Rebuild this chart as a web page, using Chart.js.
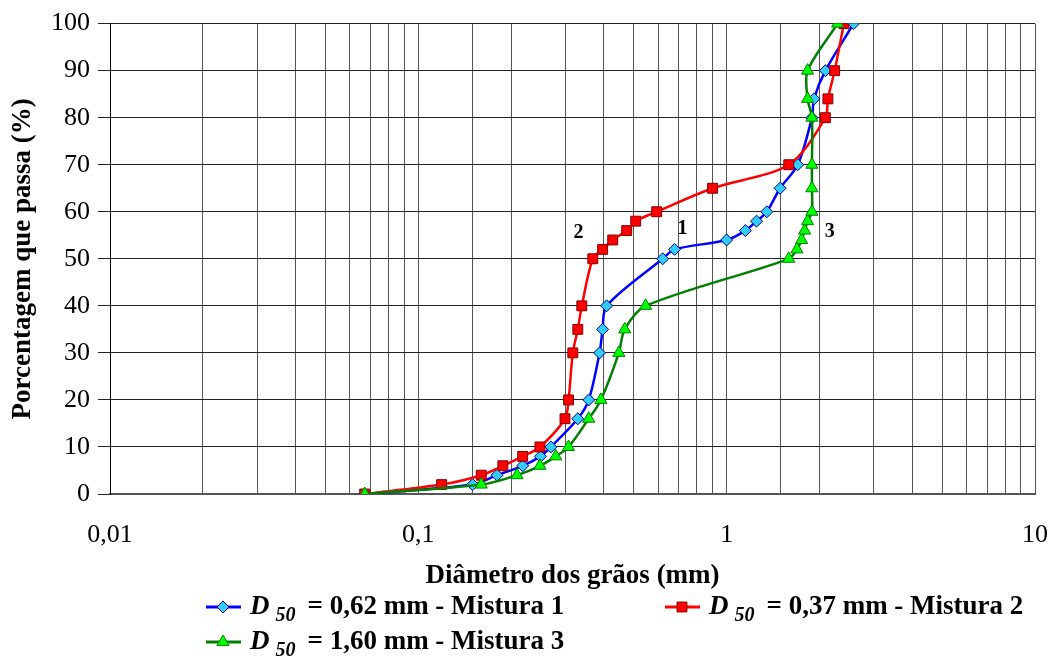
<!DOCTYPE html>
<html>
<head>
<meta charset="utf-8">
<script src="https://cdn.jsdelivr.net/npm/chart.js@4.4.0/dist/chart.umd.min.js"></script>
<style>
  html, body { margin: 0; padding: 0; background: #fff; }
  #wrap { width: 1053px; height: 656px; }
</style>
</head>
<body>
<div id="wrap"><canvas id="myChart"></canvas></div>
<script>
// percentage passing, shared by the three mixes
const passing = [0, 2, 4, 6, 8, 10, 16, 20, 30, 35, 40, 50, 52, 54, 56, 58, 60, 65, 70, 80, 84, 90, 100];
// grain diameters (mm)
const mix1 = [0.067, 0.150, 0.180, 0.218, 0.249, 0.269, 0.329, 0.357, 0.387, 0.396, 0.408, 0.620, 0.678, 1.00, 1.15, 1.25, 1.35, 1.49, 1.70, 1.89, 1.92, 2.09, 2.58];
const mix2 = [0.067, 0.119, 0.160, 0.188, 0.218, 0.248, 0.299, 0.307, 0.317, 0.329, 0.339, 0.368, 0.396, 0.427, 0.474, 0.507, 0.593, 0.90, 1.59, 2.09, 2.13, 2.24, 2.40];
const mix3 = [0.067, 0.160, 0.209, 0.248, 0.279, 0.307, 0.357, 0.391, 0.447, 0.467, 0.546, 1.59, 1.69, 1.75, 1.79, 1.83, 1.89, 1.89, 1.89, 1.89, 1.83, 1.83, 2.29];

const d50Values = ['0,62', '0,37', '1,60'];
const mixNames = ['Mistura 1', 'Mistura 2', 'Mistura 3'];

// curve numbers written next to each curve
const tagText = ['1', '2', '3'];
const tagX = [0.719, 0.331, 2.158];
const tagY = [56.3, 55.5, 55.7];

const serif = '"Liberation Serif", "Times New Roman", serif';

function pts(xs) {
  return xs.map((x, i) => ({ x: x, y: passing[i] }));
}

const curveTags = {
  id: 'curveTags',
  afterDatasetsDraw(chart) {
    const ctx = chart.ctx;
    const sx = chart.scales.x, sy = chart.scales.y;
    ctx.save();
    ctx.font = 'bold 20px ' + serif;
    ctx.fillStyle = '#000';
    ctx.textAlign = 'center';
    ctx.textBaseline = 'middle';
    tagText.forEach((t, i) => {
      ctx.fillText(t, sx.getPixelForValue(tagX[i]), sy.getPixelForValue(tagY[i]));
    });
    ctx.restore();
  }
};

const mixLegend = {
  id: 'mixLegend',
  afterDraw(chart) {
    const ctx = chart.ctx;
    const spots = [[206, 607], [665, 607], [206, 642]];
    chart.data.datasets.forEach((ds, i) => {
      const [x, y] = spots[i];
      ctx.save();
      ctx.strokeStyle = ds.borderColor;
      ctx.lineWidth = 3;
      ctx.beginPath();
      ctx.moveTo(x, y);
      ctx.lineTo(x + 35, y);
      ctx.stroke();
      ctx.fillStyle = ds.pointBackgroundColor;
      ctx.strokeStyle = ds.pointBorderColor;
      ctx.lineWidth = 1;
      Chart.helpers.drawPoint(ctx, { pointStyle: ds.pointStyle, radius: ds.pointRadius, borderWidth: 1, rotation: 0 }, x + 17, y);

      ctx.fillStyle = '#000';
      ctx.textBaseline = 'middle';
      ctx.textAlign = 'left';
      let tx = x + 44;
      ctx.font = 'italic bold 27px ' + serif;
      ctx.fillText('D', tx, y);
      tx += ctx.measureText('D').width + 6;
      ctx.font = 'italic bold 20px ' + serif;
      ctx.fillText('50', tx, y + 9);
      tx += ctx.measureText('50').width + 12;
      ctx.font = 'bold 27px ' + serif;
      ctx.fillText('= ' + d50Values[i] + ' mm - ' + mixNames[i], tx, y);
      ctx.restore();
    });
  }
};

const ctx = document.getElementById('myChart');

new Chart(ctx, {
  type: 'scatter',
  data: {
    datasets: [{
      label: mixNames[0],
      data: pts(mix1),
      showLine: true,
      tension: 0.3,
      borderColor: '#0000ff',
      borderWidth: 2.5,
      pointStyle: 'rectRot',
      pointRadius: 6,
      pointBackgroundColor: '#33ccff',
      pointBorderColor: '#000080',
      pointBorderWidth: 1,
      order: 3
    }, {
      label: mixNames[1],
      data: pts(mix2),
      showLine: true,
      tension: 0.3,
      borderColor: '#ff0000',
      borderWidth: 2.5,
      pointStyle: 'rect',
      pointRadius: 7,
      pointBackgroundColor: '#ff0000',
      pointBorderColor: '#800000',
      pointBorderWidth: 1,
      order: 2
    }, {
      label: mixNames[2],
      data: pts(mix3),
      showLine: true,
      tension: 0.3,
      borderColor: '#008000',
      borderWidth: 2.5,
      pointStyle: 'triangle',
      pointRadius: 7,
      pointBackgroundColor: '#00ff00',
      pointBorderColor: '#008000',
      pointBorderWidth: 1,
      order: 1
    }]
  },
  options: {
    responsive: true,
    maintainAspectRatio: false,
    animation: false,
    layout: { padding: { top: 20, right: 18, left: 0, bottom: 0 } },
    plugins: {
      legend: { display: false },
      tooltip: { enabled: false }
    },
    scales: {
      x: {
        type: 'logarithmic',
        min: 0.01,
        max: 10,
        afterFit(s) {
          s.height = 162;
          s.paddingLeft = 0;
          s.paddingRight = 0;
        },
        ticks: {
          autoSkip: false,
          maxRotation: 0,
          padding: 26,
          color: '#000',
          font: { family: serif, size: 26 },
          callback(v) {
            const l = Math.log10(v);
            return Math.abs(l - Math.round(l)) < 1e-9 ? String(v).replace('.', ',') : '';
          }
        },
        grid: { color: '#555', lineWidth: 1, drawTicks: false },
        border: { color: '#555', width: 2 },
        title: {
          display: true,
          text: 'Diâmetro dos grãos (mm)',
          color: '#000',
          font: { family: serif, size: 27, weight: 'bold' },
          padding: { top: 0, bottom: 64 }
        }
      },
      y: {
        min: 0,
        max: 100,
        afterFit(s) { s.width = 110; },
        ticks: {
          stepSize: 10,
          padding: 8,
          color: '#000',
          font: { family: serif, size: 26 }
        },
        grid: { color: '#222', lineWidth: 1, tickLength: 12 },
        border: { color: '#000', width: 1 },
        title: {
          display: true,
          text: 'Porcentagem que passa (%)',
          color: '#000',
          font: { family: serif, size: 27, weight: 'bold' },
          padding: { top: 7, bottom: 0 }
        }
      }
    }
  },
  plugins: [curveTags, mixLegend]
});
</script>
</body>
</html>
